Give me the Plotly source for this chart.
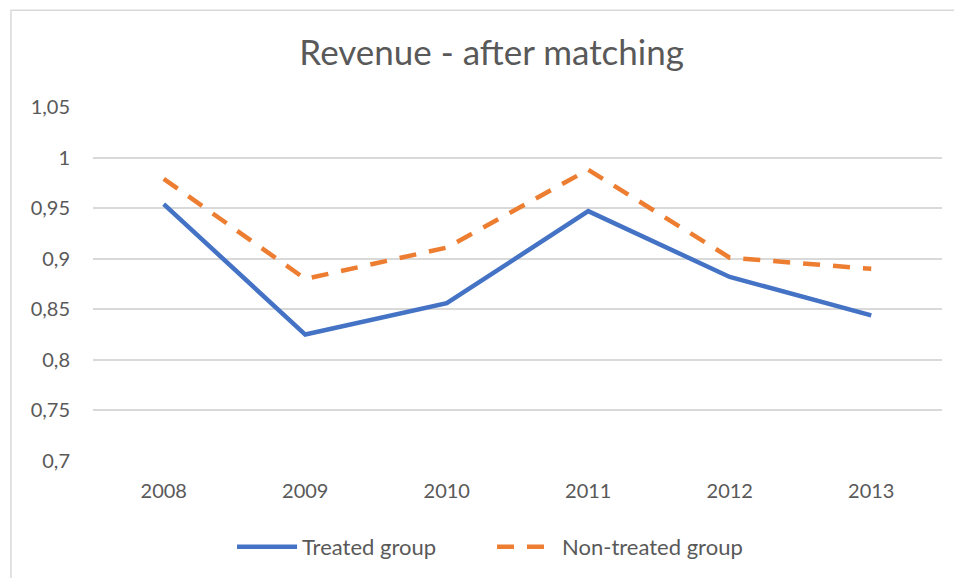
import plotly.graph_objects as go

years = ["2008", "2009", "2010", "2011", "2012", "2013"]
treated = [0.954, 0.825, 0.856, 0.947, 0.882, 0.844]
non_treated = [0.979, 0.880, 0.911, 0.988, 0.901, 0.890]
y_ticks = [0.7, 0.75, 0.8, 0.85, 0.9, 0.95, 1.0, 1.05]
y_tick_labels = ["0,7", "0,75", "0,8", "0,85", "0,9", "0,95", "1", "1,05"]

TEXT = "#595959"
FONT = "Lato"

fig = go.Figure()
fig.add_trace(go.Scatter(x=years, y=treated, mode="lines", name="Treated group",
                         line=dict(color="#4472C4", width=4.5)))
fig.add_trace(go.Scatter(x=years, y=non_treated, mode="lines", name="Non-treated group",
                         line=dict(color="#ED7D31", width=4.5, dash="17px,13px")))

fig.update_layout(
    width=954, height=570,
    margin=dict(l=85, r=20, t=99, b=116),
    paper_bgcolor="white", plot_bgcolor="white",
    font=dict(family=FONT, color=TEXT, size=20),
    title=dict(text="Revenue - after matching", x=0.507, xanchor="center",
               y=0.921, yanchor="middle", font=dict(size=35, color=TEXT, family=FONT)),
    showlegend=True,
    legend=dict(orientation="h", x=0.47, xanchor="center", y=-0.239, yanchor="middle",
                font=dict(size=22, color=TEXT), itemwidth=60, entrywidth=185,
                entrywidthmode="pixels"),
    xaxis=dict(type="category", showgrid=False, showline=False, zeroline=False,
               ticks="", ticklabelstandoff=16, tickfont=dict(size=20, color=TEXT),
               range=[-0.5, 5.5]),
    yaxis=dict(range=[0.7, 1.05], tickvals=y_ticks, ticktext=y_tick_labels,
               showgrid=True, gridcolor="#D9D9D9", gridwidth=1.5, zeroline=False,
               showline=False, ticks="", ticklabelstandoff=22,
               tickfont=dict(size=20, color=TEXT)),
    shapes=[dict(type="rect", xref="paper", yref="paper",
                 x0=-0.0966, x1=1.2, y0=-0.6, y1=1.273,
                 line=dict(color="#D9D9D9", width=1.5), fillcolor="rgba(0,0,0,0)", layer="below")],
)

fig.write_html("out.html")
